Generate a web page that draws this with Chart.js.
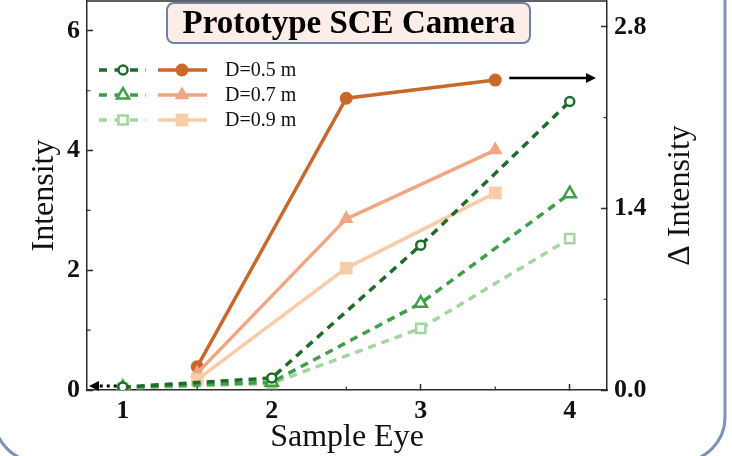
<!DOCTYPE html>
<html>
<head>
<meta charset="utf-8">
<script src="https://cdn.jsdelivr.net/npm/chart.js@4.4.1/dist/chart.umd.min.js"></script>
<style>
  html, body { margin: 0; padding: 0; background: #fff; }
  #wrap { width: 732px; height: 456px; }
</style>
</head>
<body>
<div id="wrap"><canvas id="sceChart" width="732" height="456"></canvas></div>
<script>
// sample eye positions: direct intensity at whole steps, delta at half steps
const eyeDirect = [1, 2, 3, 4];
const eyeDelta = [1.5, 2.5, 3.5];

// Intensity (left axis)
const intensity05 = [0.05, 0.20, 2.42, 4.82];
const intensity07 = [0.04, 0.13, 1.45, 3.28];
const intensity09 = [0.03, 0.11, 1.03, 2.53];

// Δ Intensity (right axis)
const delta05 = [0.18, 2.25, 2.39];
const delta07 = [0.13, 1.32, 1.85];
const delta09 = [0.08, 0.94, 1.52];

const distLabels = ['D=0.5 m', 'D=0.7 m', 'D=0.9 m'];

const xTicks = [1, 2, 3, 4];
const xMinor = [1.5, 2.5, 3.5];
const yTicks = [0, 2, 4, 6];
const yMinor = [1, 3, 5];
const y1Ticks = [0, 1.4, 2.8];
const y1Minor = [0.7, 2.1];

const SERIF = "'Liberation Serif', 'Times New Roman', serif";
const AXIS = '#2b2b2b';

const greens = ['#1f6b2b', '#3e9f48', '#a2d5a0'];
const oranges = ['#c8692b', '#f0a583', '#f7cca6'];

function pts(xs, ys) {
  return xs.map((x, i) => ({ x: x, y: ys[i] }));
}

const greenSets = [intensity05, intensity07, intensity09].map((vals, i) => ({
  label: distLabels[i],
  data: pts(eyeDirect, vals),
  yAxisID: 'y',
  borderColor: greens[i],
  borderWidth: 3.5,
  borderDash: [8, 6],
  pointStyle: ['circle', 'triangle', 'rect'][i],
  pointRadius: [4.5, 7, 6.5][i],
  pointBorderWidth: 2.5,
  pointBorderColor: greens[i],
  pointBackgroundColor: '#fff'
}));

const orangeSets = [delta05, delta07, delta09].map((vals, i) => ({
  label: distLabels[i],
  data: pts(eyeDelta, vals),
  yAxisID: 'y1',
  borderColor: oranges[i],
  borderWidth: 3.5,
  pointStyle: ['circle', 'triangle', 'rect'][i],
  pointRadius: [6.5, 8.5, 9][i],
  pointBorderWidth: 0,
  pointBackgroundColor: oranges[i]
}));

// index 0 is painted last, so dark green ends up on top
const datasets = [greenSets[0], greenSets[1], greenSets[2], orangeSets[2], orangeSets[1], orangeSets[0]];

function fixTicks(values) {
  return function (scale) { scale.ticks = values.map(v => ({ value: v })); };
}

// fixed box sizes, no extra room for overhanging tick labels
function fitBox(size) {
  return function (s) {
    if (s.isHorizontal()) s.height = size; else s.width = size;
    s.paddingTop = 0; s.paddingBottom = 0; s.paddingLeft = 0; s.paddingRight = 0;
  };
}

// rounded panel behind the whole figure
const panelPlugin = {
  id: 'panel',
  beforeDraw(chart) {
    const ctx = chart.ctx;
    ctx.save();
    ctx.strokeStyle = '#7f92b3';
    ctx.lineWidth = 3;
    ctx.beginPath();
    ctx.roundRect(-6, -80, 731, 542, 45);
    ctx.stroke();
    ctx.restore();
  }
};

function arrow(ctx, x1, y, x2, dotted) {
  const dir = Math.sign(x2 - x1);
  const head = 10;
  ctx.save();
  ctx.strokeStyle = '#000';
  ctx.fillStyle = '#000';
  ctx.lineWidth = dotted ? 3 : 2.5;
  ctx.setLineDash(dotted ? [3, 4] : []);
  ctx.beginPath();
  ctx.moveTo(x1, y);
  ctx.lineTo(x2 - dir * head, y);
  ctx.stroke();
  ctx.beginPath();
  ctx.moveTo(x2, y);
  ctx.lineTo(x2 - dir * head, y - 5);
  ctx.lineTo(x2 - dir * head, y + 5);
  ctx.closePath();
  ctx.fill();
  ctx.restore();
}

const decorPlugin = {
  id: 'decor',
  afterDraw(chart) {
    const ctx = chart.ctx;
    const area = chart.chartArea;
    const sx = chart.scales.x, sy = chart.scales.y, sy1 = chart.scales.y1;

    ctx.save();
    // top edge of the frame
    ctx.strokeStyle = AXIS;
    ctx.lineWidth = 1.5;
    ctx.beginPath();
    ctx.moveTo(area.left, area.top);
    ctx.lineTo(area.right, area.top);
    ctx.stroke();

    // minor ticks, pointing inward
    ctx.lineWidth = 1.2;
    ctx.beginPath();
    xMinor.forEach(v => {
      const p = sx.getPixelForValue(v);
      ctx.moveTo(p, area.bottom);
      ctx.lineTo(p, area.bottom - 3.5);
    });
    yMinor.forEach(v => {
      const p = sy.getPixelForValue(v);
      ctx.moveTo(area.left, p);
      ctx.lineTo(area.left + 3.5, p);
    });
    y1Minor.forEach(v => {
      const p = sy1.getPixelForValue(v);
      ctx.moveTo(area.right, p);
      ctx.lineTo(area.right - 3.5, p);
    });
    ctx.stroke();

    // right axis title, read bottom to top
    ctx.fillStyle = '#111';
    ctx.font = '32px ' + SERIF;
    ctx.textAlign = 'center';
    ctx.textBaseline = 'middle';
    ctx.translate(681, (area.top + area.bottom) / 2);
    ctx.rotate(-Math.PI / 2);
    ctx.fillText('\u0394 Intensity', 0, 0);
    ctx.restore();

    // arrows pointing each family to its axis
    const lastX = sx.getPixelForValue(eyeDelta[eyeDelta.length - 1]);
    const lastY = sy1.getPixelForValue(delta05[delta05.length - 1]);
    arrow(ctx, lastX + 14, lastY - 2, area.right - 11, false);
    const firstX = sx.getPixelForValue(eyeDirect[0]);
    const firstY = sy.getPixelForValue(intensity05[0]);
    arrow(ctx, firstX - 6, firstY - 1, area.left + 2, true);

    // legend: dashed open marker | solid filled marker | label
    const rows = [70, 95, 120];
    rows.forEach((ry, i) => {
      const g = greenSets[i], o = orangeSets[i];
      ctx.save();
      ctx.strokeStyle = g.borderColor;
      ctx.lineWidth = 3.5;
      ctx.setLineDash([8, 7.5]);
      ctx.beginPath();
      ctx.moveTo(99, ry);
      ctx.lineTo(146, ry);
      ctx.stroke();
      ctx.setLineDash([]);
      ctx.fillStyle = '#fff';
      ctx.lineWidth = 2.5;
      Chart.helpers.drawPoint(ctx, { pointStyle: g.pointStyle, radius: g.pointRadius, rotation: 0, borderWidth: 2.5 }, 123, ry);

      ctx.strokeStyle = o.borderColor;
      ctx.lineWidth = 3.5;
      ctx.beginPath();
      ctx.moveTo(158, ry);
      ctx.lineTo(207, ry);
      ctx.stroke();
      ctx.fillStyle = o.pointBackgroundColor;
      Chart.helpers.drawPoint(ctx, { pointStyle: o.pointStyle, radius: o.pointRadius, rotation: 0, borderWidth: 0 }, 182, ry);

      ctx.fillStyle = '#111';
      ctx.font = '20px ' + SERIF;
      ctx.textAlign = 'left';
      ctx.textBaseline = 'middle';
      ctx.fillText(distLabels[i], 225, ry + 1);
      ctx.restore();
    });

    // title badge sitting on the top edge
    ctx.save();
    ctx.beginPath();
    ctx.roundRect(167, 3, 363, 40, 7);
    ctx.fillStyle = '#fbeee9';
    ctx.fill();
    ctx.strokeStyle = '#6c83a8';
    ctx.lineWidth = 2;
    ctx.stroke();
    ctx.fillStyle = '#000';
    ctx.font = 'bold 33px ' + SERIF;
    ctx.textAlign = 'center';
    ctx.textBaseline = 'middle';
    ctx.fillText('Prototype SCE Camera', 349, 24);
    ctx.restore();
  }
};

const tickFont = { family: SERIF, size: 26, weight: 'bold' };
const gridOpts = { drawOnChartArea: false, tickLength: -6, tickWidth: 1.5, tickColor: AXIS };
const borderOpts = { display: true, color: AXIS, width: 1.5 };

new Chart(document.getElementById('sceChart'), {
  type: 'line',
  data: { datasets: datasets },
  plugins: [panelPlugin, decorPlugin],
  options: {
    responsive: false,
    animation: false,
    layout: { autoPadding: false, padding: { top: 1, left: 0, right: 0, bottom: 0 } },
    plugins: { legend: { display: false }, tooltip: { enabled: false } },
    elements: { line: { tension: 0 } },
    scales: {
      x: {
        type: 'linear',
        min: 0.76,
        max: 4.25,
        afterBuildTicks: fixTicks(xTicks),
        afterFit: fitBox(66),
        grid: gridOpts,
        border: borderOpts,
        ticks: { font: tickFont, color: '#111', padding: 12, maxRotation: 0 },
        title: { display: true, text: 'Sample Eye', color: '#111', font: { family: SERIF, size: 32 }, padding: { top: 0, bottom: -1 } }
      },
      y: {
        position: 'left',
        min: 0,
        max: 6.5,
        afterBuildTicks: fixTicks(yTicks),
        afterFit: fitBox(87),
        grid: gridOpts,
        border: borderOpts,
        ticks: { font: tickFont, color: '#111', padding: 13 },
        title: { display: true, text: 'Intensity', color: '#111', font: { family: SERIF, size: 32 }, padding: { top: 25, bottom: 0 } }
      },
      y1: {
        position: 'right',
        min: 0,
        max: 3.0,
        afterBuildTicks: fixTicks(y1Ticks),
        afterFit: fitBox(125),
        grid: gridOpts,
        border: borderOpts,
        ticks: { font: tickFont, color: '#111', padding: 13, callback: v => v.toFixed(1) }
      }
    }
  }
});
</script>
</body>
</html>
